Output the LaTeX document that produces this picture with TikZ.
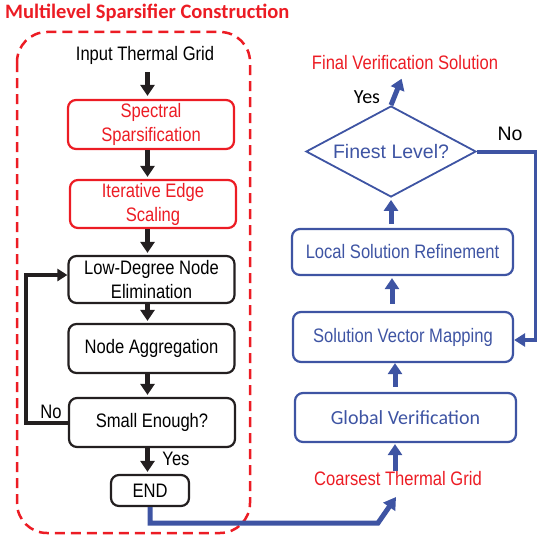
\documentclass[tikz,border=0pt]{standalone}
\usepackage{fontspec}
\setmainfont{Liberation Sans}[FakeStretch=0.85]
\newfontfamily\widefont{Liberation Sans}
\newfontfamily\calfont{Carlito}
\usetikzlibrary{arrows.meta,shapes.geometric}
\definecolor{fred}{RGB}{236,28,36}
\definecolor{fblue}{RGB}{62,84,163}
\definecolor{fblack}{RGB}{35,31,32}

\begin{document}
\begin{tikzpicture}[x=1pt,y=-1pt,
  txt/.style={font=\fontsize{19.5}{24}\selectfont, align=center, inner sep=0pt},
  widetxt/.style={font=\widefont\fontsize{19.5}{24}\selectfont, inner sep=0pt},
  caltxt/.style={font=\calfont\fontsize{20}{24}\selectfont, inner sep=0pt},
  box/.style={txt, draw, rounded corners=8pt, line width=2.2pt, minimum width=166pt, minimum height=49pt},
  redbox/.style={box, draw=fred, text=fred},
  blackbox/.style={box, draw=fblack, text=black},
  bluebox/.style={box, draw=fblue, text=fblue, minimum width=221pt},
  karrow/.style={draw=fblack, line width=5pt, -{Triangle[width=14pt,length=11pt]}},
  barrow/.style={draw=fblue, line width=5pt, -{Triangle[width=14pt,length=11pt]}},
]
\useasboundingbox (0,0) rectangle (537,535);

% frame of the construction stage
\draw[fred, line width=2.5pt, dash pattern=on 10pt off 6pt, rounded corners=30pt]
  (17,32) rectangle (250,533);
\node[font=\calfont\bfseries\fontsize{20.5}{24}\selectfont, text=fred, anchor=west, inner sep=0pt]
  (title) at (5,12.5) {Multilevel Sparsifier Construction};

% left column: sparsifier construction
\node[txt] (input) at (145,55) {Input Thermal Grid};
\node[redbox] (spec) at (151,124.5) {Spectral\\Sparsification};
\node[redbox, minimum height=48pt] (iter) at (153,204) {Iterative Edge\\Scaling};
\node[blackbox, minimum height=47pt] (low) at (151.5,279.5) {Low-Degree Node\\Elimination};
\node[blackbox] (agg) at (151.5,348.5) {Node Aggregation};
\node[blackbox] (small) at (152,422.5) {Small Enough?};
\node[blackbox, minimum width=78pt, minimum height=31pt] (end) at (150,490.5) {END};
\node[txt] (no1) at (51,412) {No};
\node[txt] (yes1) at (176,459) {Yes};

\coordinate (ax) at (147.5,0);
\draw[karrow, shorten <=8pt, shorten >=3pt] (input.south -| ax) -- (spec.north -| ax);
\draw[karrow, shorten >=2pt] (spec.south -| ax) -- (iter.north -| ax);
\draw[karrow, shorten >=2pt] (iter.south -| ax) -- (low.north -| ax);
\draw[karrow, shorten >=2pt] (low.south -| ax) -- (agg.north -| ax);
\draw[karrow, shorten >=2pt] (agg.south -| ax) -- (small.north -| ax);
\draw[karrow, shorten >=2pt] (small.south -| ax) -- (end.north -| ax);
\draw[draw=fblack, line width=4pt, -{Triangle[width=12pt,length=10pt]}]
  (small.west) -- ++(-42,0) |- ([yshift=4.5pt]low.west);

% right column: solution refinement
\node[txt, text=fred] (final) at (405,63) {Final Verification Solution};
\node[widetxt, diamond, draw=fblue, line width=1.8pt, text=fblue, minimum width=170pt,
  minimum height=91pt, aspect=1.87] (dia) at (391,151.5) {Finest Level?};
\node[bluebox, minimum height=46pt] (local) at (402.5,252) {Local Solution Refinement};
\node[bluebox, minimum height=50pt, minimum width=220pt] (svm) at (403,337) {Solution Vector Mapping};
\node[bluebox, font=\calfont\fontsize{20}{24}\selectfont] (gv) at (405.5,417.5) {Global Verification};
\node[txt, text=fred] (coarse) at (398,479) {Coarsest Thermal Grid};
\node[caltxt] (yes2) at (367,97) {Yes};
\node[widetxt] (no2) at (510,134) {No};

\coordinate (bx) at (395,0);
\coordinate (by) at (392,0);
\draw[barrow, shorten <=1pt, shorten >=1pt] (coarse.north -| bx) -- (gv.south -| bx);
\draw[barrow, shorten <=5pt] (gv.north -| bx) -- (svm.south -| bx);
\draw[barrow, shorten <=7pt, shorten >=2pt] (svm.north -| by) -- (local.south -| by);
\draw[barrow, shorten <=4pt, shorten >=2pt] (local.north -| dia) -- (dia.south);
\draw[barrow, shorten >=9pt] (dia.north) -- (final.south);
\draw[draw=fblue, line width=4pt, -{Triangle[width=13pt,length=11pt]}]
  (dia.east) -- ++(59,0) |- ([yshift=-3pt]svm.east);

% hand-over from the construction stage to the coarsest grid
\coordinate (bend) at (378,523);
\coordinate (cend) at (396,497);
\draw[draw=fblue, line width=5pt, -{Triangle[width=14pt,length=12pt]}]
  (end.south) |- (bend) -- (cend);
\end{tikzpicture}
\end{document}
